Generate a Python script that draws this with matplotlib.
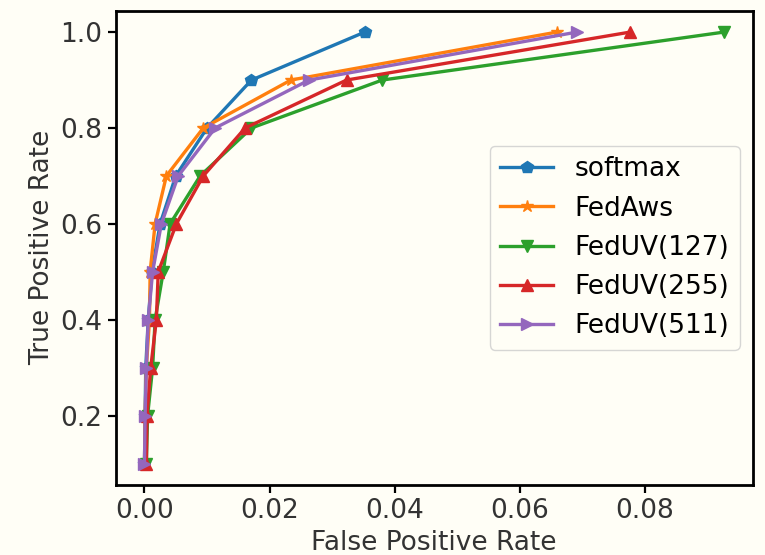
import matplotlib
matplotlib.use("agg")
import matplotlib.pyplot as plt

# true positive rate levels shared by all curves
tpr = [0.1, 0.2, 0.3, 0.4, 0.5, 0.6, 0.7, 0.8, 0.9, 1.0]

# false positive rate per method
fpr_softmax = [0.0, 0.0001, 0.0002, 0.0006, 0.0012, 0.0025, 0.0050, 0.0100, 0.0171, 0.0352]
fpr_fedaws = [0.0, 0.0001, 0.0003, 0.0008, 0.0009, 0.0017, 0.0035, 0.0094, 0.0234, 0.0659]
fpr_feduv127 = [0.0003, 0.0005, 0.0013, 0.0017, 0.0030, 0.0041, 0.0089, 0.0171, 0.0380, 0.0926]
fpr_feduv255 = [0.0003, 0.0004, 0.0010, 0.0019, 0.0022, 0.0051, 0.0094, 0.0161, 0.0323, 0.0776]
fpr_feduv511 = [0.0, 0.0001, 0.0003, 0.0006, 0.0013, 0.0027, 0.0054, 0.0113, 0.0263, 0.0691]

labels = ["softmax", "FedAws", "FedUV(127)", "FedUV(255)", "FedUV(511)"]
markers = ["p", "*", "v", "^", ">"]
series = [fpr_softmax, fpr_fedaws, fpr_feduv127, fpr_feduv255, fpr_feduv511]

bg = "#fffef6"
plt.rcParams["font.family"] = ["DejaVu Sans"]
plt.rcParams["font.size"] = 19

fig = plt.figure(figsize=(7.65, 5.55), dpi=100, facecolor=bg)
ax = fig.add_axes([0.151, 0.126, 0.833, 0.855])
ax.set_facecolor(bg)

for fpr, lab, m in zip(series, labels, markers):
    ax.plot(fpr, tpr, marker=m, label=lab, linewidth=2.4, markersize=9)

ax.set_xlabel("False Positive Rate", color="#333333")
ax.set_ylabel("True Positive Rate", color="#333333")
ax.set_xticks([0.0, 0.02, 0.04, 0.06, 0.08])
ax.set_yticks([0.2, 0.4, 0.6, 0.8, 1.0])
ax.tick_params(width=1.6, length=6, labelcolor="#333333")
for s in ax.spines.values():
    s.set_linewidth(2.0)

leg = ax.legend(loc="center right", facecolor=bg, framealpha=0.8)

plt.savefig("out.png", dpi=100, facecolor=bg)
plt.close()
